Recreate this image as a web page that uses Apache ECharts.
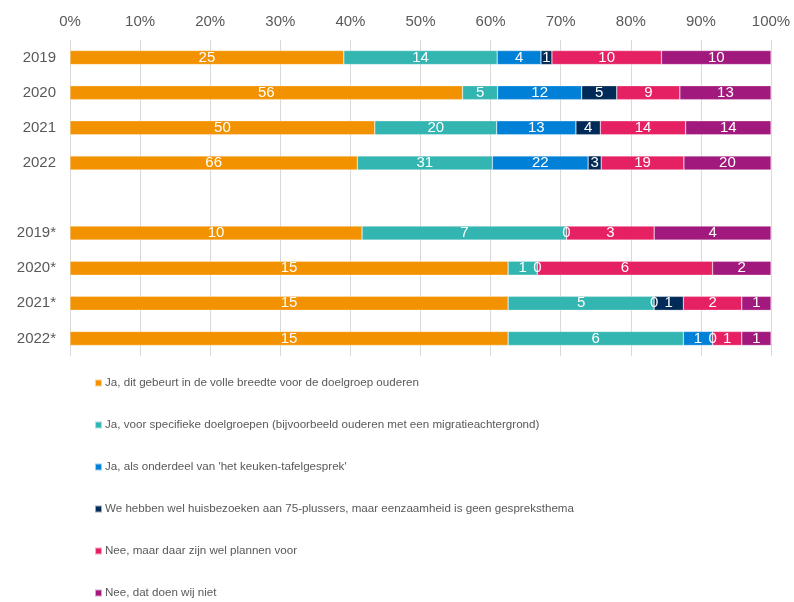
<!DOCTYPE html>
<html>
<head>
<meta charset="utf-8">
<script src="https://cdn.jsdelivr.net/npm/echarts@6/dist/echarts.min.js"></script>
<style>
  html, body { margin: 0; padding: 0; background: #fff; }
  #chart { width: 794px; height: 602px; }
</style>
</head>
<body>
<div id="chart"></div>
<script>
// categorieën (lege regel tussen de twee groepen)
const categories = ['2019', '2020', '2021', '2022', '', '2019*', '2020*', '2021*', '2022*'];
const tickLabels = ['0%', '10%', '20%', '30%', '40%', '50%', '60%', '70%', '80%', '90%', '100%'];

const seriesNames = [
    'Ja, dit gebeurt in de volle breedte voor de doelgroep ouderen',
    'Ja, voor specifieke doelgroepen (bijvoorbeeld ouderen met een migratieachtergrond)',
    "Ja, als onderdeel van 'het keuken-tafelgesprek'",
    'We hebben wel huisbezoeken aan 75-plussers, maar eenzaamheid is geen gespreksthema',
    'Nee, maar daar zijn wel plannen voor',
    'Nee, dat doen wij niet'
];
const colors = ['#F39200', '#33B5B1', '#0080D6', '#002A57', '#E62163', '#A2197E'];

// aantallen per categorie (null = geen waarde)
const volleBreedte = [25, 56, 50, 66, null, 10, 15, 15, 15];
const specifiek    = [14, 5, 20, 31, null, 7, 1, 5, 6];
const keukentafel  = [4, 12, 13, 22, null, 0, 0, 0, 1];
const huisbezoek   = [1, 5, 4, 3, null, null, null, 1, 0];
const plannen      = [10, 9, 14, 19, null, 3, 6, 2, 1];
const nietDoen     = [10, 13, 14, 20, null, 4, 2, 1, 1];

const counts = [volleBreedte, specifiek, keukentafel, huisbezoek, plannen, nietDoen];

// totaal per rij, om naar 100% te schalen
const totals = categories.map((c, i) =>
    counts.reduce((s, arr) => s + (arr[i] || 0), 0));

const chart = echarts.init(document.getElementById('chart'));

const series = counts.map((arr, k) => ({
    name: seriesNames[k],
    type: 'bar',
    stack: 'totaal',
    barWidth: 14,
    itemStyle: { color: colors[k], borderColor: 'rgba(255,255,255,0.6)', borderWidth: 0.5 },
    label: {
        show: true,
        position: 'inside',
        color: '#fff',
        fontSize: 15,
        fontFamily: 'Liberation Sans',
        formatter: p => arr[p.dataIndex] == null ? '' : String(arr[p.dataIndex])
    },
    emphasis: { disabled: true },
    data: arr.map((v, i) => v == null ? null : v / totals[i] * 100)
}));

chart.setOption({
    animation: false,
    textStyle: { fontFamily: 'Liberation Sans' },
    grid: { left: 70, right: 23, top: 40, height: 316, containLabel: false },
    xAxis: {
        type: 'value',
        position: 'top',
        min: 0,
        max: 100,
        interval: 10,
        axisLine: { show: false },
        axisTick: { show: false },
        splitLine: { lineStyle: { color: '#D9D9D9', width: 1 } },
        axisLabel: {
            margin: 11,
            color: '#595959',
            fontSize: 15,
            formatter: (v) => tickLabels[Math.round(v / 10)]
        }
    },
    yAxis: {
        type: 'category',
        inverse: true,
        data: categories,
        axisLine: { show: false },
        axisTick: { show: false },
        axisLabel: { margin: 14, color: '#595959', fontSize: 15 }
    },
    legend: {
        orient: 'vertical',
        left: 94,
        top: 376,
        height: 240,
        padding: 0,
        itemWidth: 7,
        itemHeight: 7,
        itemGap: 28,
        icon: 'rect',
        textStyle: {
            color: '#595959',
            fontSize: 11.6,
            lineHeight: 14,
            padding: [0, 0, 0, -2]
        },
        data: seriesNames
    },
    series: series
});
</script>
</body>
</html>
